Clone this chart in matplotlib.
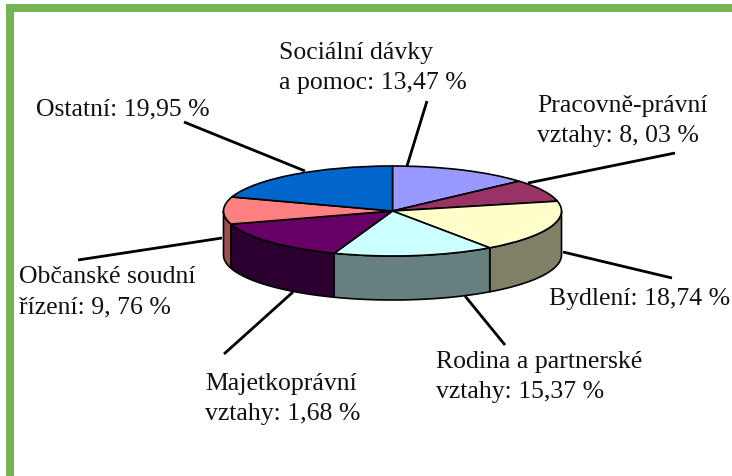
import numpy as np
import matplotlib
matplotlib.use('Agg')
import matplotlib.pyplot as plt
from matplotlib.patches import Wedge
from matplotlib.transforms import Affine2D

# podily jednotlivych vysecí (Majetkopravni je v obrazku vetsi nez v popisku)
kategorie = ['Sociální dávky', 'Pracovně-právní', 'Bydlení', 'Rodina a partnerské',
             'Majetkoprávní', 'Občanské soudní', 'Ostatní']
hodnoty = [13.47, 8.03, 18.74, 15.37, 14.68, 9.76, 19.95]
barvy_vrch = ['#9999ff', '#993366', '#ffffcc', '#ccffff', '#660066', '#ff8080', '#0066cc']
barvy_bok = ['#4d4d80', '#4d1a33', '#808066', '#668080', '#2b0030', '#a05048', '#003366']
popisky = ['Sociální dávky\na pomoc: 13,47 %', 'Pracovně-právní\nvztahy: 8, 03 %',
           'Bydlení: 18,74 %', 'Rodina a partnerské\nvztahy: 15,37 %',
           'Majetkoprávní\nvztahy: 1,68 %', 'Občanské soudní\nřízení: 9, 76 %',
           'Ostatní: 19,95 %']
pozice_popisku = [(279, 89), (537, 142), (549, 305), (436, 398), (205, 420), (19, 313), (36, 115)]
vodici_cary = [((427, 102), (407, 167)), ((528, 184), (675, 154)), ((563, 253), (672, 279)),
               ((465, 297), (505, 346)), ((293, 293), (224, 355)), ((222, 239), (78, 261)),
               ((184, 123), (305, 172))]

cx, cy, rx, ry, hloubka = 392.5, 212, 169, 45, 44
zelena = '#74b356'

fig = plt.figure(figsize=(7.32, 4.77), dpi=100)
ax = fig.add_axes([0, 0, 1, 1])
ax.set_xlim(0, 732)
ax.set_ylim(477, 0)
ax.axis('off')

# zeleny ramecek
ax.fill_between([6, 732], 5, 13, color=zelena, lw=0)
ax.fill_between([6, 14], 5, 477, color=zelena, lw=0)

# uhly po smeru hodin od vrcholu
hrany = np.concatenate([[0], np.cumsum(hodnoty)]) / np.sum(hodnoty) * 360

# boky kolace (jen predni pulka)
for i in range(len(hodnoty)):
    a = max(hrany[i], 90)
    b = min(hrany[i + 1], 270)
    if a >= b:
        continue
    t = np.radians(np.linspace(a, b, 60))
    x = cx + rx * np.sin(t)
    y = cy - ry * np.cos(t)
    ax.fill(np.r_[x, x[::-1]], np.r_[y, y[::-1] + hloubka],
            facecolor=barvy_bok[i], edgecolor='black', lw=1.2, joinstyle='round')

# vrchni plocha
elipsa = Affine2D().scale(rx, ry).translate(cx, cy) + ax.transData
for i in range(len(hodnoty)):
    # osa y je otocena, takze uhel roste po smeru hodin
    w = Wedge((0, 0), 1, hrany[i] - 90, hrany[i + 1] - 90,
              facecolor=barvy_vrch[i], edgecolor='black', lw=1.2, transform=elipsa)
    ax.add_patch(w)

# vodici cary a popisky
for (p1, p2), text, (tx, ty) in zip(vodici_cary, popisky, pozice_popisku):
    ax.plot([p1[0], p2[0]], [p1[1], p2[1]], color='black', lw=2, solid_capstyle='butt')
    ax.text(tx, ty, text, family='Liberation Serif', fontsize=18.5, color='#111111',
            ha='left', va='baseline', linespacing=1.45)

fig.savefig('out.png', dpi=100)
